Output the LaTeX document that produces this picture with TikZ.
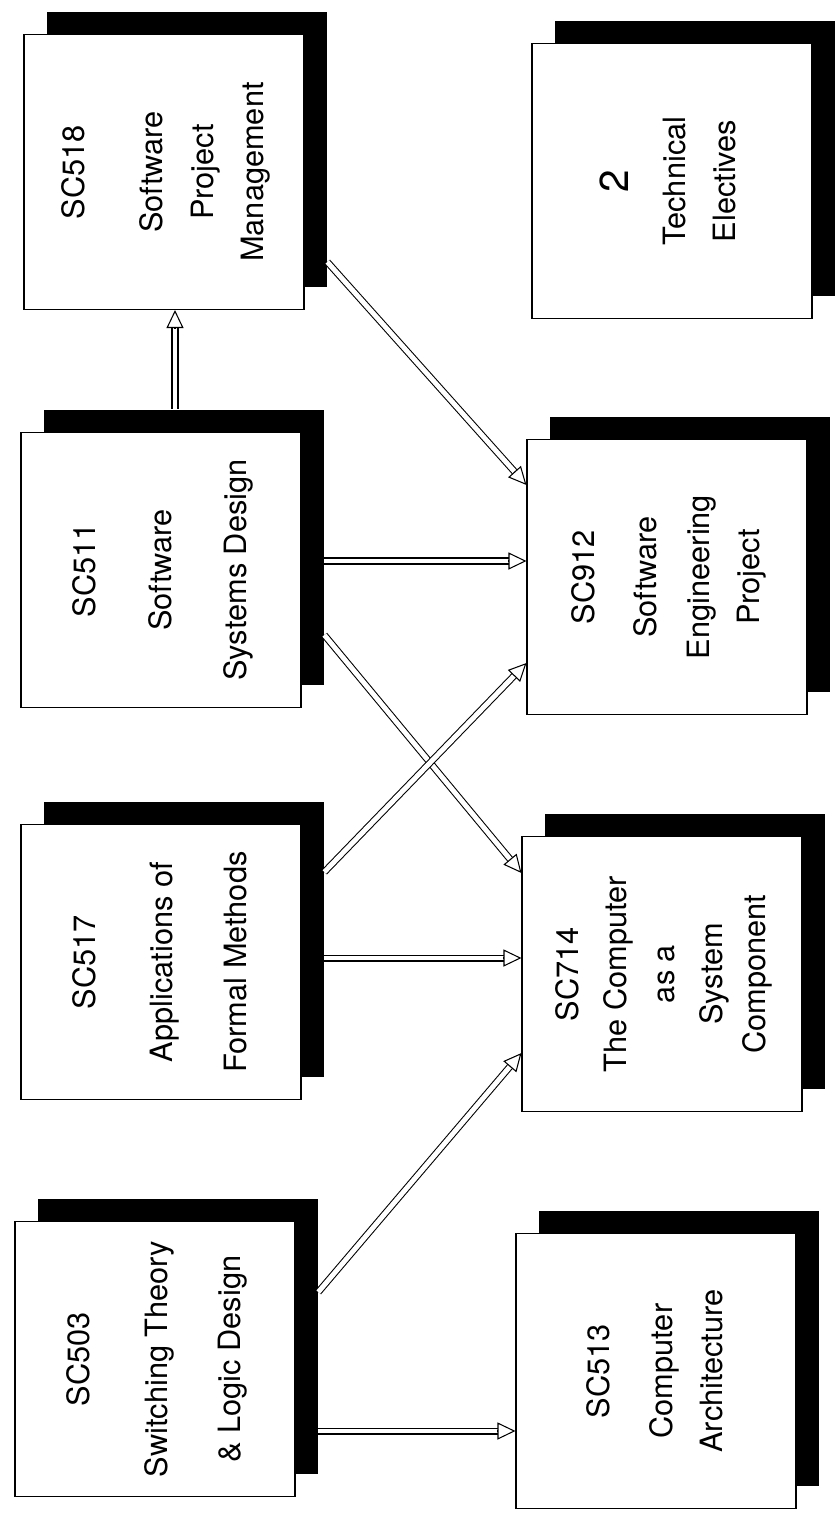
\documentclass[tikz,border=0pt]{standalone}
\usepackage{fontspec}
\setmainfont{TeX Gyre Heros}
\usetikzlibrary{arrows.meta,calc}
\tikzset{
  course/.style={draw, fill=white, line width=0.6pt, minimum width=5.6cm,
                 minimum height=5.5cm, inner sep=0pt,
                 font=\fontsize{17.5}{28.5}\selectfont},
  backdrop/.style={fill=black, minimum width=5.6cm, minimum height=5.5cm,
                   inner sep=0pt},
  shaft/.style={draw, line width=0.6pt, double=white, double distance=2.8pt,
                shorten >=0.32cm},
  tiphead/.style={line width=0.6pt,
                  -{Triangle[length=0.36cm, width=0.34cm, fill=white]}},
}
\newcommand{\upright}[1]{\rotatebox{90}{\begin{tabular}{@{}c@{}}#1\end{tabular}}}

\begin{document}
\begin{tikzpicture}
  \useasboundingbox (0,0) rectangle (16.78,-30.44);

  %% course boxes, each with its black backdrop
  \foreach \n/\x/\y/\t in {
      518/3.28/-3.44/{SC518\\[0.56cm] Software\\ Project\\ Management},
      511/3.22/-11.40/{SC511\\[0.5cm] Software\\[0.5cm] Systems Design},
      517/3.22/-19.24/{SC517\\[0.54cm] Applications of\\[0.48cm] Formal Methods},
      503/3.10/-27.18/{SC503\\[0.56cm] Switching Theory\\[0.46cm] \& Logic Design},
      te/13.44/-3.62/{{\fontsize{23}{28}\selectfont 2}\\[0.12cm] Technical\\ Electives},
      912/13.34/-11.54/{SC912\\[0.24cm] Software\\[0.06cm] Engineering\\ Project},
      714/13.24/-19.48/{SC714\\[-0.04cm] The Computer\\[-0.04cm] as a\\[-0.04cm] System\\[-0.14cm] Component},
      513/13.12/-27.42/{SC513\\[0.26cm] Computer\\ Architecture}} {
    \node[backdrop] (s\n) at (\x+0.46,\y+0.46) {};
    \node[course] (c\n) at (\x,\y) {\upright{\t}};
  }

  %% connector ends
  \coordinate (a1) at ([xshift=-0.18cm]s511.north);
  \coordinate (b1) at (a1 |- c518.south);
  \coordinate (a2) at ([yshift=-0.28cm]s511.east);
  \coordinate (b2) at (a2 -| c912.west);
  \coordinate (a3) at ([yshift=-0.38cm]s517.east);
  \coordinate (b3) at (a3 -| c714.west);
  \coordinate (a4) at ([yshift=-1.9cm]s503.east);
  \coordinate (b4) at (a4 -| c513.west);
  \coordinate (a5) at ([yshift=-2.26cm]s518.east);
  \coordinate (b5) at ([yshift=1.84cm]c912.west);
  \coordinate (a6) at ([yshift=-1.76cm]s511.east);
  \coordinate (b6) at ([yshift=2.02cm]c714.west);
  \coordinate (a7) at ([yshift=1.34cm]s517.east);
  \coordinate (b7) at ([yshift=-1.72cm]c912.west);
  \coordinate (a8) at ([yshift=0.88cm]s503.east);
  \coordinate (b8) at ([yshift=-1.58cm]c714.west);

  %% prerequisite arrows
  \foreach \i in {1,...,8} {
    \draw[shaft] (a\i) -- (b\i);
    \draw[tiphead] ($(b\i)!0.36cm!(a\i)$) -- (b\i);
  }
\end{tikzpicture}
\end{document}
